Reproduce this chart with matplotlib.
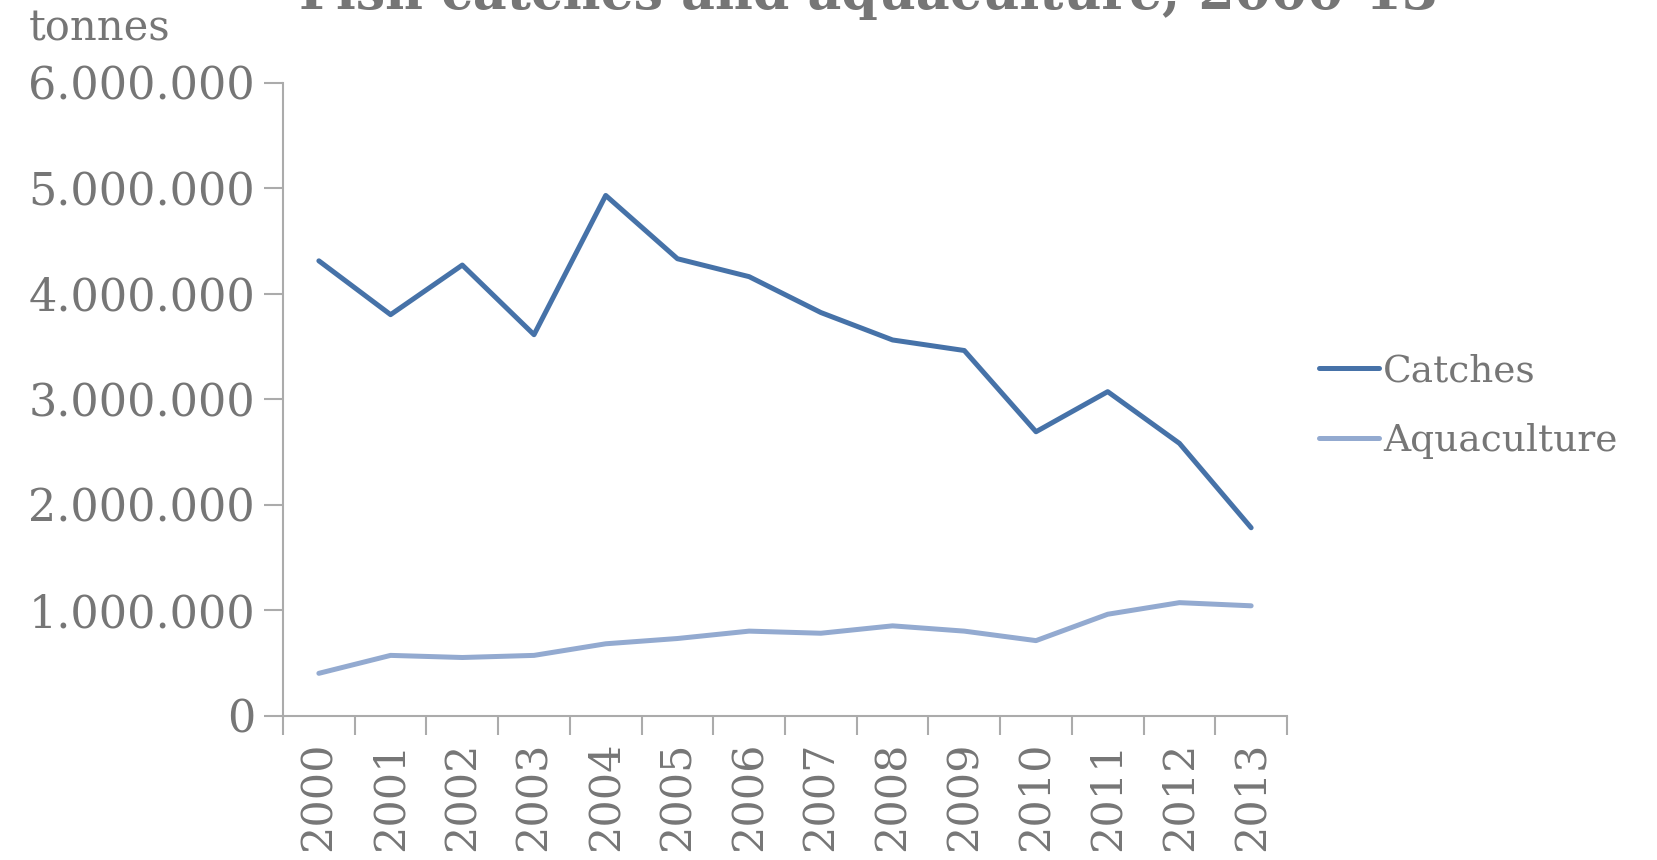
import numpy as np
import matplotlib.pyplot as plt
from matplotlib.ticker import FuncFormatter, FixedLocator

years = [str(y) for y in range(2000, 2014)]
catches = [4.31, 3.80, 4.27, 3.61, 4.93, 4.33, 4.16, 3.82, 3.56, 3.46, 2.69, 3.07, 2.58, 1.78]
aquaculture = [0.40, 0.57, 0.55, 0.57, 0.68, 0.73, 0.80, 0.78, 0.85, 0.80, 0.71, 0.96, 1.07, 1.04]
catches = [v * 1e6 for v in catches]
aquaculture = [v * 1e6 for v in aquaculture]

grey = '#767676'
axis_grey = '#ABABAB'
plt.rcParams['font.family'] = 'DejaVu Serif'

fig = plt.figure(figsize=(16.57, 8.60), dpi=100)
ax = fig.add_axes([0.1708, 0.168, 0.6059, 0.736])

x = np.arange(len(years))
ax.plot(x, catches, color='#4672A8', lw=3.6, label='Catches', solid_capstyle='round')
ax.plot(x, aquaculture, color='#93AAD0', lw=3.6, label='Aquaculture', solid_capstyle='round')

ax.set_xlim(-0.5, len(years) - 0.5)
ax.set_ylim(0, 6e6)
ax.set_yticks(np.arange(0, 6.1e6, 1e6))
ax.yaxis.set_major_formatter(FuncFormatter(lambda v, p: f'{int(v):,}'.replace(',', '.')))
ax.set_xticks(x)
ax.set_xticklabels(years, rotation=90)
ax.xaxis.set_minor_locator(FixedLocator(np.arange(-0.5, len(years), 1.0)))

for s in ['top', 'right']:
    ax.spines[s].set_visible(False)
for s in ['left', 'bottom']:
    ax.spines[s].set_color(axis_grey)
    ax.spines[s].set_linewidth(1.5)

ax.tick_params(axis='y', direction='out', length=14, width=1.5, color=axis_grey,
               labelsize=32, labelcolor=grey, pad=6)
ax.tick_params(axis='x', which='major', length=0, labelsize=31, labelcolor=grey, pad=19)
ax.tick_params(axis='x', which='minor', direction='out', length=14, width=1.5, color=axis_grey)

fig.text(0.060, 0.967, 'tonnes', fontsize=30, color=grey, ha='center', va='center')
fig.text(0.524, 0.9895, 'Fish catches and aquaculture, 2000-13', fontsize=37.5,
         fontweight='bold', color=grey, ha='center', va='baseline')

leg = ax.legend(loc='center left', bbox_to_anchor=(0.785, 0.528), bbox_transform=fig.transFigure,
                frameon=False, fontsize=27, handlelength=1.6, handletextpad=0.1,
                labelspacing=0.9, borderpad=0)
for t in leg.get_texts():
    t.set_color(grey)

fig.savefig('out.png', dpi=100)
